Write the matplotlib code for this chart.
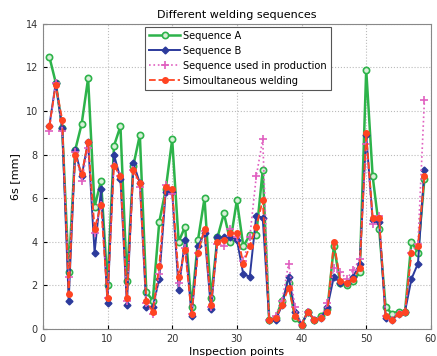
import numpy as np
from matplotlib import pyplot as plt

points = np.arange(1, 60)

seq_a = [12.5, 11.3, 9.2, 2.6, 8.2, 9.4, 11.5, 5.6, 6.8, 2.0,
         8.4, 9.3, 2.2, 7.5, 8.9, 1.7, 1.3, 4.9, 6.4, 8.7,
         4.0, 4.7, 1.0, 4.1, 6.0, 1.4, 4.2, 5.3, 4.0, 5.9,
         3.8, 4.3, 4.3, 7.3, 0.4, 0.5, 1.3, 2.1, 0.5, 0.2,
         0.8, 0.4, 0.6, 0.9, 3.8, 2.1, 2.0, 2.2, 2.6, 11.9,
         7.0, 4.6, 1.0, 0.7, 0.8, 0.8, 4.0, 3.5, 6.9]
seq_b = [9.3, 11.3, 9.2, 1.3, 8.2, 7.0, 8.6, 3.5, 6.4, 1.2,
         8.0, 6.9, 1.1, 7.6, 6.7, 1.0, 1.0, 2.3, 6.3, 6.3,
         1.8, 4.1, 0.6, 3.8, 4.4, 0.9, 4.2, 4.2, 4.2, 4.1,
         2.5, 2.4, 5.2, 5.1, 0.4, 0.4, 1.1, 2.4, 0.8, 0.2,
         0.8, 0.4, 0.5, 1.0, 2.4, 2.1, 2.1, 2.4, 3.0, 8.9,
         5.0, 4.9, 0.5, 0.4, 0.7, 0.8, 2.3, 3.0, 7.3]
seq_prod = [9.1, 11.3, 9.1, 2.4, 8.1, 6.8, 8.3, 4.4, 5.7, 1.4,
            7.5, 7.0, 1.3, 7.3, 6.5, 1.2, 0.7, 2.5, 6.6, 6.2,
            2.1, 3.7, 0.7, 3.5, 4.5, 1.0, 3.9, 3.8, 4.6, 4.2,
            3.1, 4.2, 7.0, 8.7, 0.4, 0.6, 1.3, 3.0, 1.0, 0.2,
            0.8, 0.4, 0.5, 1.2, 2.8, 2.6, 2.3, 2.7, 3.2, 8.5,
            4.8, 5.2, 0.6, 0.4, 0.7, 0.8, 3.5, 3.9, 10.5]
seq_sim = [9.3, 11.2, 9.6, 1.6, 8.0, 7.1, 8.6, 4.6, 5.7, 1.4,
           7.5, 7.0, 1.4, 7.3, 6.7, 1.3, 0.8, 2.9, 6.5, 6.4,
           2.4, 3.6, 0.7, 3.5, 4.6, 1.1, 4.0, 4.1, 4.4, 4.4,
           3.0, 3.8, 4.7, 5.9, 0.4, 0.5, 1.1, 1.9, 0.6, 0.2,
           0.8, 0.4, 0.5, 0.8, 4.0, 2.2, 2.1, 2.3, 2.8, 9.0,
           5.1, 5.1, 0.6, 0.4, 0.7, 0.8, 3.5, 3.8, 7.0]

plt.rcParams['font.family'] = 'DejaVu Sans'
fig = plt.figure(figsize=(4.37, 3.56), dpi=100)
ax = fig.add_axes([0.098, 0.076, 0.888, 0.857])

ax.plot(points, seq_a, '-o', color='#2db34a', lw=1.8, ms=4.5,
        mfc='#d8f0d8', mec='#2db34a', mew=1.2, label='Sequence A')
ax.plot(points, seq_b, '-D', color='#2c3a9c', lw=1.4, ms=3.5,
        mfc='#2c3a9c', label='Sequence B')
ax.plot(points, seq_prod, ':+', color='#e060c0', lw=1.2, ms=6,
        mew=1.2, label='Sequence used in production')
ax.plot(points, seq_sim, '--o', color='#ff4422', lw=1.3, ms=4,
        mfc='#ff4422', label='Simoultaneous welding')

ax.set_xlim(0, 60)
ax.set_ylim(0, 14)
ax.set_xticks(range(0, 61, 10))
ax.set_yticks(range(0, 15, 2))
ax.tick_params(labelsize=7, direction='in', length=3, labelcolor='#333333')
ax.grid(True, linestyle=':', color='#bbbbbb', lw=0.8)
ax.set_title('Different welding sequences', fontsize=8, pad=4)
ax.set_xlabel('Inspection points', fontsize=8, labelpad=2)
ax.set_ylabel('6s [mm]', fontsize=8, labelpad=4)
for s in ax.spines.values():
    s.set_color('#888888')

leg = ax.legend(loc='upper left', bbox_to_anchor=(0.263, 0.99), fontsize=7.1,
                fancybox=False, framealpha=1, edgecolor='#555555',
                handlelength=3.2, borderpad=0.4, labelspacing=0.5,
                handletextpad=0.3, borderaxespad=0)
leg.get_frame().set_linewidth(0.8)

plt.savefig('out.png')
